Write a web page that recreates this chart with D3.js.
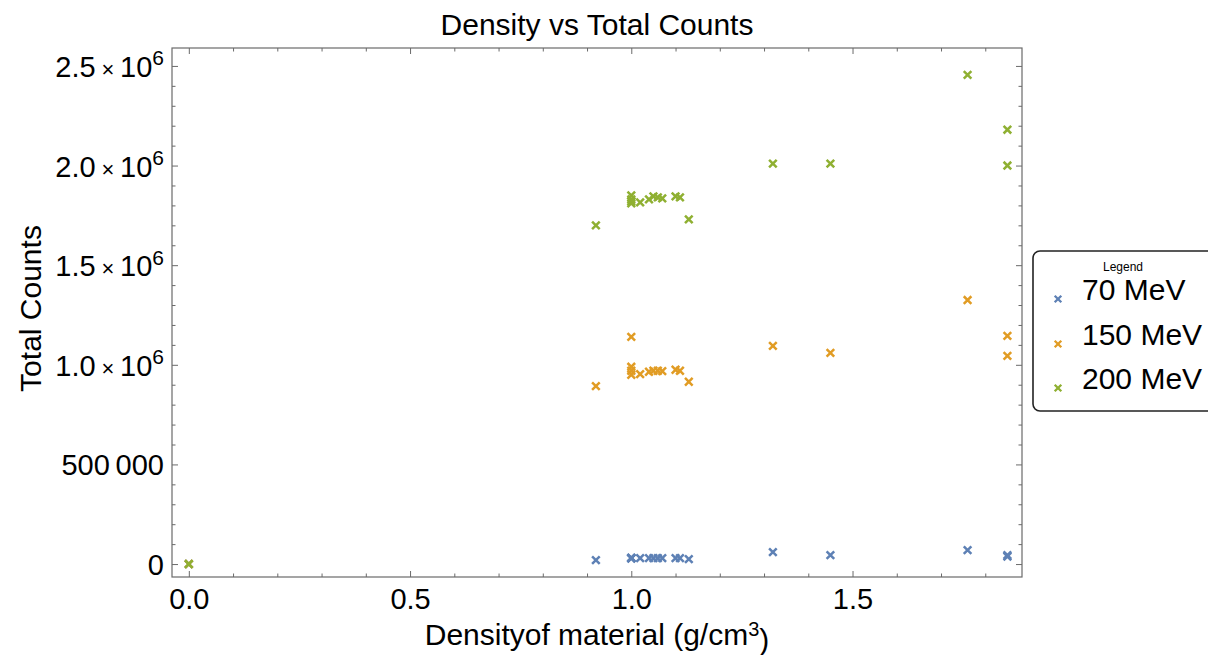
<!DOCTYPE html>
<html><head><meta charset="utf-8">
<script src="https://cdn.jsdelivr.net/npm/d3@7"></script>
<style>body{margin:0;background:#fff}svg{display:block}text{font-family:"Liberation Sans",Arial,sans-serif}</style>
</head><body>
<svg id="c" width="1208" height="655"></svg>
<script>
// ---- data ----
const densities = [0, 0.92, 1.0, 1.0, 1.0, 1.0, 1.02, 1.04, 1.05, 1.06, 1.07, 1.10, 1.11, 1.13, 1.32, 1.45, 1.76, 1.85, 1.85];
const counts70  = [0, 20000, 30000, 30000, 28000, 32000, 30000, 30000, 30000, 30000, 30000, 30000, 30000, 25000, 60000, 45000, 70000, 45000, 38000];
const counts150 = [0, 893000, 1140000, 990000, 970000, 950000, 953000, 965000, 970000, 970000, 968000, 975000, 970000, 915000, 1095000, 1060000, 1325000, 1145000, 1045000];
const counts200 = [0, 1700000, 1850000, 1830000, 1820000, 1810000, 1815000, 1830000, 1845000, 1840000, 1835000, 1845000, 1840000, 1730000, 2010000, 2010000, 2455000, 2180000, 2000000];
const seriesNames = ["70 MeV", "150 MeV", "200 MeV"];
const seriesColors = ["#5E81B5", "#E19C24", "#8FB032"];
const xMajor = [0, 0.5, 1.0, 1.5];
const xMinor = [0.1,0.2,0.3,0.4,0.6,0.7,0.8,0.9,1.1,1.2,1.3,1.4,1.6,1.7,1.8];
const yMajor = [0, 500000, 1000000, 1500000, 2000000, 2500000];
const yMajorMantissa = ["0", "500\u2009000", "1.0", "1.5", "2.0", "2.5"];
const yMajorExponent = [null, null, "6", "6", "6", "6"];
const yMinor = [100000,200000,300000,400000,600000,700000,800000,900000,1100000,1200000,1300000,1400000,1600000,1700000,1800000,1900000,2100000,2200000,2300000,2400000];

// ---- layout ----
const L = 172, R = 1022, T = 48, B = 577;
const FONT = "Liberation Sans, Arial, sans-serif";
const svg = d3.select("#c");
const x = d3.scaleLinear().domain([-0.038, 1.883]).range([L, R]);
const y = d3.scaleLinear().domain([-65000, 2590000]).range([B, T]);
const frameColor = "#6a6a6a";

function styleAxis(g) {
  g.select(".domain").remove();
  g.selectAll(".tick line").attr("stroke", frameColor).attr("stroke-width", 1);
}
// bottom
svg.append("g").attr("transform", `translate(0,${B})`)
  .call(d3.axisBottom(x).tickValues(xMajor).tickSize(-6).tickPadding(11).tickFormat(d3.format(".1f")))
  .call(styleAxis)
  .call(g => g.selectAll("text").attr("font-size", 29).attr("fill", "#000").attr("font-family", FONT));
svg.append("g").attr("transform", `translate(0,${B})`)
  .call(d3.axisBottom(x).tickValues(xMinor).tickSize(-3.5).tickFormat("")).call(styleAxis);
// top
svg.append("g").attr("transform", `translate(0,${T})`)
  .call(d3.axisTop(x).tickValues(xMajor).tickSize(-6).tickFormat("")).call(styleAxis);
svg.append("g").attr("transform", `translate(0,${T})`)
  .call(d3.axisTop(x).tickValues(xMinor).tickSize(-3.5).tickFormat("")).call(styleAxis);
// left
const leftAx = svg.append("g").attr("transform", `translate(${L},0)`)
  .call(d3.axisLeft(y).tickValues(yMajor).tickSize(-6).tickFormat(""))
  .call(styleAxis);
leftAx.selectAll(".tick").each(function(d, i) {
  const t = d3.select(this).append("text").attr("x", -8).attr("dy", "0.36em")
    .attr("text-anchor", "end").attr("font-size", 29).attr("fill", "#000")
    .attr("font-family", FONT);
  if (yMajorExponent[i]) {
    t.append("tspan").text(yMajorMantissa[i] + "\u2009");
    t.append("tspan").attr("font-size", 22).text("\u00d7");
    t.append("tspan").text("\u200910");
    t.append("tspan").attr("dy", "-0.55em").attr("font-size", 21).text(yMajorExponent[i]);
  } else {
    t.text(yMajorMantissa[i]);
  }
});
svg.append("g").attr("transform", `translate(${L},0)`)
  .call(d3.axisLeft(y).tickValues(yMinor).tickSize(-3.5).tickFormat("")).call(styleAxis);
// right
svg.append("g").attr("transform", `translate(${R},0)`)
  .call(d3.axisRight(y).tickValues(yMajor).tickSize(-6).tickFormat("")).call(styleAxis);
svg.append("g").attr("transform", `translate(${R},0)`)
  .call(d3.axisRight(y).tickValues(yMinor).tickSize(-3.5).tickFormat("")).call(styleAxis);
// frame
svg.append("rect").attr("x", L).attr("y", T).attr("width", R - L).attr("height", B - T)
  .attr("fill", "none").attr("stroke", frameColor).attr("stroke-width", 1.2);

// ---- points ----
const cross = "M-3.8,-3.8L3.8,3.8M-3.8,3.8L3.8,-3.8";
const allSeries = [counts70, counts150, counts200];
allSeries.forEach((vals, si) => {
  svg.append("g").selectAll("path").data(vals.map((v, i) => [densities[i], v])).join("path")
    .attr("d", cross)
    .attr("transform", d => `translate(${x(d[0])},${y(d[1])})`)
    .attr("stroke", seriesColors[si]).attr("stroke-width", 2.5).attr("fill", "none");
});

// ---- titles ----
svg.append("text").attr("x", (L + R) / 2).attr("y", 35).attr("text-anchor", "middle")
  .attr("font-size", 30).text("Density vs Total Counts");
const xl = svg.append("text").attr("x", (L + R) / 2).attr("y", 645).attr("text-anchor", "middle").attr("font-size", 30);
xl.append("tspan").text("Densityof material (g/cm");
xl.append("tspan").attr("dy", "-0.45em").attr("font-size", 20).text("3");
xl.append("tspan").attr("dy", "0.45em").text(")");
svg.append("text").attr("transform", `translate(41,${(T + B) / 2 - 4}) rotate(-90)`)
  .attr("text-anchor", "middle").attr("font-size", 30).text("Total Counts");

// ---- legend ----
const lg = svg.append("g");
lg.append("rect").attr("x", 1033).attr("y", 251).attr("width", 200).attr("height", 160)
  .attr("rx", 7).attr("fill", "#fff").attr("stroke", "#222").attr("stroke-width", 1.6);
lg.append("text").attr("x", 1123).attr("y", 271).attr("text-anchor", "middle").attr("font-size", 12).text("Legend");
const legY = [299, 344, 388];
seriesNames.forEach((n, i) => {
  lg.append("path").attr("d", "M-3.3,-3.3L3.3,3.3M-3.3,3.3L3.3,-3.3")
    .attr("transform", `translate(1058,${legY[i]})`)
    .attr("stroke", seriesColors[i]).attr("stroke-width", 2.3);
  lg.append("text").attr("x", 1082).attr("y", legY[i] + 1).attr("font-size", 30).text(n);
});
</script>
</body></html>
